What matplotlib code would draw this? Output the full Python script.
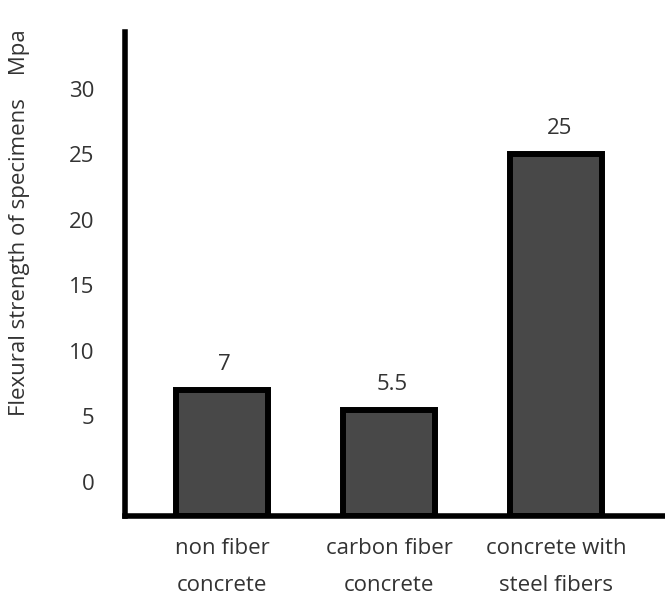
import matplotlib
matplotlib.use("Agg")
import matplotlib.pyplot as plt
import numpy as np

plt.rcParams['font.family'] = ['Open Sans', 'DejaVu Sans']

categories = ["non fiber\nconcrete", "carbon fiber\nconcrete", "concrete with\nsteel fibers"]
strength = [7, 5.5, 25]
value_labels = ["7", "5.5", "25"]
y_ticks = [0, 5, 10, 15, 20, 25, 30]

W, H = 665, 598
fig = plt.figure(figsize=(W / 100, H / 100), dpi=100)
ax = fig.add_axes([125 / W, (H - 516) / H, 540 / W, (516 - 32) / H])

y_min, y_max = -2.6, 34.35
x = np.arange(len(categories))
heights = np.array(strength) - y_min
ax.bar(x, heights, bottom=y_min, width=0.55, color="#484848",
       edgecolor="black", linewidth=4.3, zorder=2)

for xi, v, lab in zip(x, strength, value_labels):
    ax.annotate(lab, (xi, v), xytext=(2, 11), textcoords="offset points",
                ha="center", va="bottom", fontsize=16, color="#333333")

ax.set_ylim(y_min, y_max)
ax.set_xlim(-0.58, 2.65)
ax.set_yticks(y_ticks)
ax.set_xticks(x)
ax.set_xticklabels(categories, linespacing=2.0)
ax.tick_params(axis="both", length=0, labelsize=16, labelcolor="#333333")
ax.tick_params(axis="y", pad=22)
ax.tick_params(axis="x", pad=16)

for side in ("top", "right"):
    ax.spines[side].set_visible(False)
for side in ("left", "bottom"):
    ax.spines[side].set_linewidth(4)
    ax.spines[side].set_color("black")
    ax.spines[side].set_capstyle("projecting")

ax.set_ylabel("Flexural strength of specimens    Mpa", fontsize=16, color="#333333")
ax.yaxis.set_label_coords(-0.175, 0.607)

fig.savefig("out.png", dpi=100)
